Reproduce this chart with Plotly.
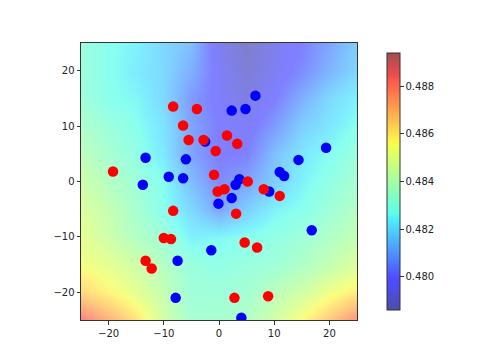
import plotly.graph_objects as go

# Heatmap grid (coarse estimate of the field)
grid_x = [-25, -20, -15, -10, -5, 0, 5, 10, 15, 20, 25]
grid_y = [-25, -20, -15, -10, -5, 0, 5, 10, 15, 20, 25]
field = [
    [0.48832, 0.48724, 0.48616, 0.48454, 0.48346, 0.48346, 0.48378, 0.48454, 0.48562, 0.48670, 0.48800],
    [0.48638, 0.48573, 0.48508, 0.48422, 0.48324, 0.48324, 0.48335, 0.48400, 0.48454, 0.48530, 0.48594],
    [0.48551, 0.48508, 0.48454, 0.48378, 0.48314, 0.48292, 0.48314, 0.48324, 0.48368, 0.48422, 0.48486],
    [0.48508, 0.48443, 0.48378, 0.48324, 0.48238, 0.48249, 0.48270, 0.48292, 0.48324, 0.48368, 0.48422],
    [0.48486, 0.48422, 0.48346, 0.48270, 0.48184, 0.48076, 0.48162, 0.48238, 0.48270, 0.48324, 0.48378],
    [0.48454, 0.48378, 0.48324, 0.48260, 0.48130, 0.48022, 0.48076, 0.48162, 0.48238, 0.48292, 0.48346],
    [0.48400, 0.48346, 0.48292, 0.48216, 0.48076, 0.47990, 0.48000, 0.48130, 0.48216, 0.48260, 0.48314],
    [0.48368, 0.48314, 0.48270, 0.48205, 0.48076, 0.47990, 0.47968, 0.48054, 0.48162, 0.48216, 0.48270],
    [0.48324, 0.48270, 0.48249, 0.48184, 0.48054, 0.47975, 0.47925, 0.47990, 0.48098, 0.48184, 0.48238],
    [0.48314, 0.48270, 0.48227, 0.48184, 0.48098, 0.47968, 0.47903, 0.47957, 0.48022, 0.48108, 0.48184],
    [0.48314, 0.48270, 0.48238, 0.48184, 0.48130, 0.47946, 0.47882, 0.47946, 0.48000, 0.48076, 0.48162],
]
zmin, zmax = 0.4786, 0.4894

red_x = [-19.2, -8.3, -4.0, -6.5, -5.5, -2.8, -0.6, 1.45, 3.3, -0.9, -0.25, 1.0, 5.2, 8.1, 11.0,
         -8.3, 3.1, -10.0, -8.7, 4.65, 6.9, -13.3, -12.2, 2.8, 8.9]
red_y = [1.8, 13.55, 13.1, 10.1, 7.5, 7.5, 5.5, 8.3, 6.8, 1.2, -1.8, -1.4, 0.0, -1.4, -2.6,
         -5.3, -5.8, -10.2, -10.4, -11.0, -11.9, -14.3, -15.7, -21.0, -20.7]
blue_x = [6.6, 2.3, 4.8, -2.5, -13.3, -6.0, -13.8, -9.1, -6.5, 3.7, 3.0, 2.3, -0.1, 9.1, 11.0,
          11.8, 14.4, 19.4, 16.8, -1.4, -7.5, -7.85, 4.05]
blue_y = [15.5, 12.8, 13.1, 7.2, 4.3, 4.0, -0.6, 0.85, 0.6, 0.4, -0.6, -3.0, -4.0, -1.8, 1.7,
          1.0, 3.9, 6.1, -8.8, -12.4, -14.3, -21.0, -24.6]
tick_vals = [-20, -10, 0, 10, 20]
cbar_ticks = [0.480, 0.482, 0.484, 0.486, 0.488]

# matplotlib 'jet' blended over white; colorbar shown a bit stronger than the field
jet = {
    'r': [(0, 0), (0.35, 0), (0.66, 1), (0.89, 1), (1, 0.5)],
    'g': [(0, 0), (0.125, 0), (0.375, 1), (0.64, 1), (0.91, 0), (1, 0)],
    'b': [(0, 0.5), (0.11, 1), (0.34, 1), (0.65, 0), (1, 0)],
}

def interp(pts, t):
    for (t0, v0), (t1, v1) in zip(pts[:-1], pts[1:]):
        if t0 <= t <= t1:
            return v0 + (v1 - v0) * (t - t0) / (t1 - t0) if t1 > t0 else v1
    return pts[-1][1]

stops = sorted({0, 0.11, 0.125, 0.34, 0.35, 0.375, 0.64, 0.65, 0.66, 0.89, 0.91, 1})
bar_alpha = 0.7
field_alpha = 0.5
colorscale = []
for s in stops:
    rgb = [interp(jet[c], s) for c in 'rgb']
    rgb = [round(255 * (bar_alpha * v + (1 - bar_alpha))) for v in rgb]
    colorscale.append([s, f"rgb({rgb[0]},{rgb[1]},{rgb[2]})"])

fig = go.Figure()
fig.add_trace(go.Heatmap(
    x=grid_x, y=grid_y, z=field, zmin=zmin, zmax=zmax, zsmooth='best',
    colorscale=colorscale, opacity=field_alpha / bar_alpha,
    colorbar=dict(
        x=1.072, xanchor='left', y=0.5, yanchor='middle', len=1.0, lenmode='fraction',
        thickness=13, outlinewidth=1, outlinecolor='#333',
        tickvals=cbar_ticks, ticktext=[f"{v:.3f}" for v in cbar_ticks],
        ticks='outside', ticklen=3.5, tickcolor='#333',
        tickfont=dict(family='DejaVu Sans', size=10, color='#222'),
    ),
))
fig.add_trace(go.Scatter(x=blue_x, y=blue_y, mode='markers',
                         marker=dict(color='#0000ff', size=10.5), showlegend=False))
fig.add_trace(go.Scatter(x=red_x, y=red_y, mode='markers',
                         marker=dict(color='#ff0000', size=10.5), showlegend=False))

axis_common = dict(
    range=[-25, 25], tickvals=tick_vals, ticks='outside', ticklen=3.5, tickcolor='#333',
    showline=True, linecolor='#333', linewidth=1, mirror=True, showgrid=False, zeroline=False,
    tickfont=dict(family='DejaVu Sans', size=10, color='#222'),
)
fig.update_layout(
    width=480, height=360, paper_bgcolor='white', plot_bgcolor='white',
    margin=dict(l=73, r=131, t=35, b=48),
    xaxis=dict(**axis_common),
    yaxis=dict(**axis_common),
    showlegend=False,
)
fig.write_html("out.html")
